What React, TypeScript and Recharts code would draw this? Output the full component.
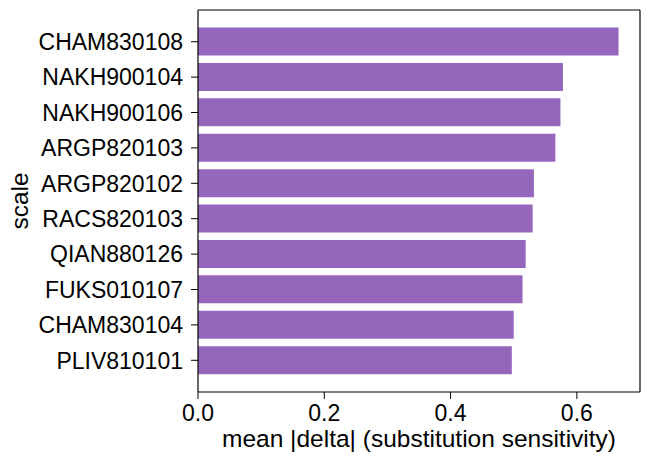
import { BarChart, Bar, XAxis, YAxis, CartesianGrid } from "recharts";

const scales = [
  "CHAM830108",
  "NAKH900104",
  "NAKH900106",
  "ARGP820103",
  "ARGP820102",
  "RACS820103",
  "QIAN880126",
  "FUKS010107",
  "CHAM830104",
  "PLIV810101",
];

const meanDelta = [0.666, 0.578, 0.574, 0.566, 0.532, 0.53, 0.519, 0.514, 0.5, 0.497];

const xTicks = [0, 0.2, 0.4, 0.6];

const data = scales.map((scale, i) => ({ scale, value: meanDelta[i] }));

const FONT = "'Liberation Sans', Arial, sans-serif";
const TICK_FS = 23;
const LABEL_FS = 24.5;
const PURPLE = "#9467bd";
const axisLine = { stroke: "#000", strokeWidth: 1.2 };

const XTick = ({ x, y, payload }: any) => (
  <text
    x={x}
    y={y}
    dy={17.5}
    textAnchor="middle"
    fontSize={TICK_FS}
    fontFamily={FONT}
    fill="#000"
  >
    {Number(payload.value).toFixed(1)}
  </text>
);

const YTick = ({ x, y, payload }: any) => (
  <text
    x={x}
    y={y}
    dy={TICK_FS * 0.36}
    textAnchor="end"
    fontSize={TICK_FS}
    fontFamily={FONT}
    fill="#000"
  >
    {payload.value}
  </text>
);

export default function App() {
  return (
    <div style={{ position: "absolute", left: 0, top: 0, background: "#fff" }}>
      <BarChart
        width={650}
        height={466}
        data={data}
        layout="vertical"
        margin={{ top: 10, right: 10, left: 0, bottom: 0 }}
        barCategoryGap="10%"
      >
        {/* top and right spines */}
        <CartesianGrid
          stroke="#000"
          strokeWidth={1.2}
          horizontalCoordinatesGenerator={({ offset }: any) => [offset.top]}
          verticalCoordinatesGenerator={({ offset }: any) => [offset.left + offset.width]}
        />
        <XAxis
          type="number"
          domain={[0, 0.7]}
          ticks={xTicks}
          tick={<XTick />}
          tickSize={7}
          tickMargin={4}
          axisLine={axisLine}
          tickLine={{ stroke: "#000" }}
          height={74}
          label={{
            value: "mean |delta| (substitution sensitivity)",
            position: "insideBottom",
            offset: 19,
            fontSize: LABEL_FS,
            fontFamily: FONT,
            fill: "#000",
          }}
        />
        <YAxis
          type="category"
          dataKey="scale"
          width={198}
          tick={<YTick />}
          tickSize={7}
          tickMargin={8}
          interval={0}
          padding={{ top: 14, bottom: 14 }}
          axisLine={axisLine}
          tickLine={{ stroke: "#000" }}
          label={{
            value: "scale",
            angle: -90,
            position: "insideLeft",
            offset: 19.5,
            fontSize: LABEL_FS,
            fontFamily: FONT,
            fill: "#000",
            textAnchor: "middle",
          }}
        />
        <Bar dataKey="value" fill={PURPLE} isAnimationActive={false} />
      </BarChart>
    </div>
  );
}
